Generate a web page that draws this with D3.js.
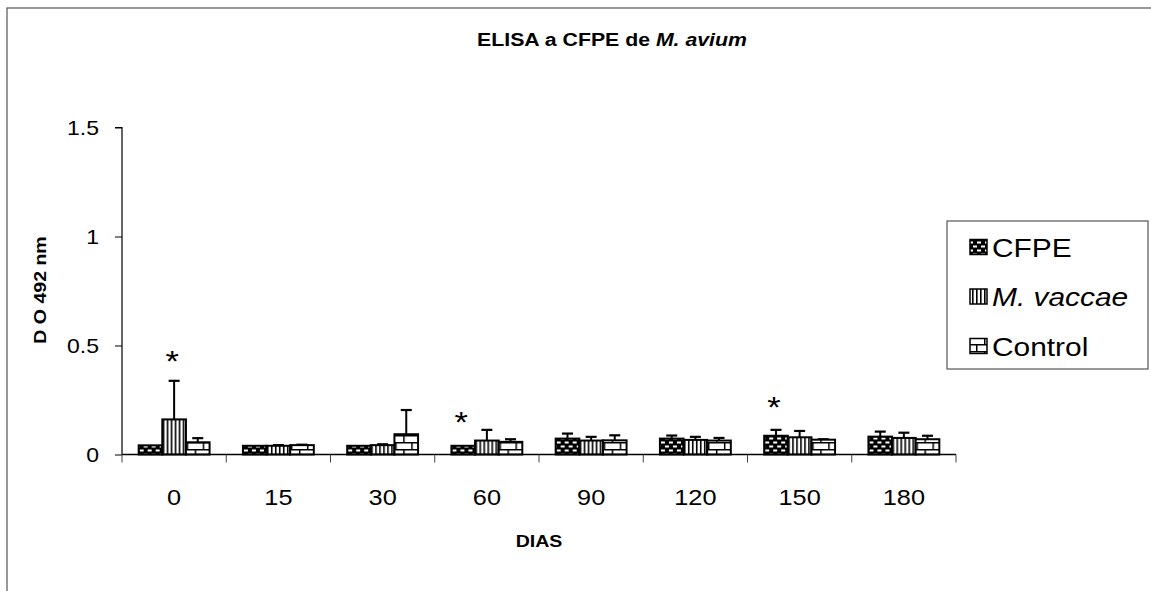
<!DOCTYPE html>
<html><head><meta charset="utf-8">
<script src="https://cdn.jsdelivr.net/npm/d3@7"></script>
<style>body{margin:0;background:#fff}svg{display:block}</style>
</head><body>
<svg id="c" width="1151" height="591"></svg>
<script>
const categories = ["0","15","30","60","90","120","150","180"];
const seriesNames = ["CFPE","M. vaccae","Control"];
const cfpeValues    = [0.042,0.040,0.040,0.040,0.073,0.073,0.086,0.082];
const cfpeErrors    = [0.000,0.000,0.000,0.000,0.023,0.014,0.027,0.023];
const vaccaeValues  = [0.161,0.040,0.043,0.064,0.064,0.067,0.079,0.076];
const vaccaeErrors  = [0.177,0.003,0.004,0.049,0.017,0.014,0.029,0.024];
const controlValues = [0.056,0.043,0.093,0.058,0.065,0.064,0.068,0.070];
const controlErrors = [0.019,0.002,0.111,0.012,0.023,0.012,0.002,0.016];
const yTicks = [0, 0.5, 1, 1.5];
const yTickLabels = ["0","0.5","1","1.5"];
const stars = [{cat:"0",series:1,y:0.47},{cat:"60",series:0,y:0.19},{cat:"150",series:0,y:0.26}];
const titleMain = "ELISA a CFPE de ";
const titleItalic = "M. avium";
const xTitle = "DIAS";
const yTitle = "D O 492 nm";

const values = [cfpeValues, vaccaeValues, controlValues];
const errors = [cfpeErrors, vaccaeErrors, controlErrors];
const FONT = "'Liberation Sans', Arial, sans-serif";
const SX = 1.15;

const svg = d3.select("#c");
// patterns
const defs = svg.append("defs");
const p0 = defs.append("pattern").attr("id","pat0").attr("patternUnits","userSpaceOnUse").attr("width",8).attr("height",8);
p0.append("rect").attr("width",8).attr("height",8).attr("fill","#000");
p0.append("rect").attr("x",1).attr("y",1.5).attr("width",4).attr("height",2).attr("fill","#fff");
p0.append("rect").attr("x",5).attr("y",5.5).attr("width",4).attr("height",2).attr("fill","#fff");
p0.append("rect").attr("x",-3).attr("y",5.5).attr("width",4).attr("height",2).attr("fill","#fff");
const p1 = defs.append("pattern").attr("id","pat1").attr("patternUnits","userSpaceOnUse").attr("width",4).attr("height",4);
p1.append("rect").attr("width",4).attr("height",4).attr("fill","#fff");
p1.append("rect").attr("x",0).attr("y",0).attr("width",1.6).attr("height",4).attr("fill","#000");
const p2 = defs.append("pattern").attr("id","pat2").attr("patternUnits","userSpaceOnUse").attr("width",16).attr("height",14).attr("y",1);
p2.append("rect").attr("width",16).attr("height",14).attr("fill","#fff");
p2.append("rect").attr("x",0).attr("y",0).attr("width",16).attr("height",1.5).attr("fill","#000");
p2.append("rect").attr("x",0).attr("y",7).attr("width",16).attr("height",1.5).attr("fill","#000");
p2.append("rect").attr("x",8).attr("y",0).attr("width",1.5).attr("height",7).attr("fill","#000");
p2.append("rect").attr("x",0).attr("y",7).attr("width",1.5).attr("height",7).attr("fill","#000");

// outer frame
svg.append("rect").attr("x",7).attr("y",8).attr("width",1200).attr("height",700)
  .attr("fill","none").attr("stroke","#555").attr("stroke-width",1.2);

function stext(x, y, anchor, size, weight, parts, rot) {
  const g = svg.append("g").attr("transform", `translate(${x},${y})` + (rot ? ` rotate(${rot})` : "") + ` scale(${SX},1)`);
  const t = g.append("text").attr("text-anchor",anchor).attr("font-family",FONT)
    .attr("font-size",size).attr("font-weight",weight).attr("fill","#000");
  parts.forEach(p => t.append("tspan").attr("font-style", p.i ? "italic" : "normal").text(p.t));
  return t;
}

const x0 = 122, x1 = 956, yBase = 454.5, yTop = 127.5;
const pad = 0.32;
const x = d3.scaleBand().domain(categories).range([x0, x1]).paddingInner(pad).paddingOuter(pad/2);
const xs = d3.scaleBand().domain(d3.range(3)).range([0, x.bandwidth()]);
const y = d3.scaleLinear().domain([0, 1.5]).range([yBase, yTop]);

// title
stext(612, 46, "middle", 18.5, "bold", [{t:titleMain},{t:titleItalic,i:true}]);

// y axis
const yAxisG = svg.append("g").attr("transform",`translate(${x0},0)`)
  .call(d3.axisLeft(y).tickValues(yTicks).tickSize(7).tickFormat(() => ""));
yAxisG.select(".domain").attr("stroke","#000").attr("stroke-width",1.2).attr("d",`M-7,${yTop}H0V${yBase}`);
yAxisG.selectAll(".tick line").attr("stroke","#000");
yTicks.forEach((v,i) => stext(99, y(v) + 7, "end", 20, "normal", [{t:yTickLabels[i]}]));

// bars
const groups = svg.append("g").selectAll("g").data(categories).join("g")
  .attr("transform", d => `translate(${x(d)},0)`);
groups.each(function(cat, ci) {
  const g = d3.select(this);
  for (let s = 0; s < 3; s++) {
    const v = values[s][ci], e = errors[s][ci];
    const bx = xs(s), bw = xs.bandwidth();
    if (e > 0.001) {
      g.append("line").attr("x1",bx+bw/2).attr("x2",bx+bw/2).attr("y1",y(v)).attr("y2",y(v+e))
        .attr("stroke","#000").attr("stroke-width",2);
      g.append("line").attr("x1",bx+bw/2-5.5).attr("x2",bx+bw/2+5.5).attr("y1",y(v+e)).attr("y2",y(v+e))
        .attr("stroke","#000").attr("stroke-width",2.2);
    }
    g.append("rect").attr("x",bx).attr("width",bw).attr("y",y(v)).attr("height",yBase - y(v))
      .attr("fill",`url(#pat${s})`).attr("stroke","#000").attr("stroke-width",2);
  }
});

// x axis
const step = x.step();
const boundaries = categories.map(c => x(c) - step*pad/2).concat([x1]);
svg.append("line").attr("x1",x0).attr("x2",x1).attr("y1",yBase).attr("y2",yBase).attr("stroke","#000").attr("stroke-width",1.3);
svg.selectAll(".xt").data(boundaries).join("line").attr("class","xt")
  .attr("x1",d=>d).attr("x2",d=>d).attr("y1",yBase).attr("y2",yBase+8).attr("stroke","#444").attr("stroke-width",1);
categories.forEach(c => stext(x(c) + x.bandwidth()/2, 505, "middle", 22, "normal", [{t:c}]));

// stars
stars.forEach(st => {
  const cx = x(st.cat) + xs(st.series) + xs.bandwidth()/2 - 2;
  stext(cx, y(st.y) + 19, "middle", 30, "normal", [{t:"*"}]);
});

// axis titles
stext(539, 547, "middle", 17, "bold", [{t:xTitle}]);
stext(46, 290, "middle", 17, "bold", [{t:yTitle}], -90);

// legend
svg.append("rect").attr("x",947).attr("y",221).attr("width",201).attr("height",148)
  .attr("fill","#fff").attr("stroke","#555").attr("stroke-width",1.2);
seriesNames.forEach((n,i) => {
  const cy = 247 + i*49.5;
  svg.append("rect").attr("x",970).attr("y",cy-7.5).attr("width",17).attr("height",15)
    .attr("fill",`url(#pat${i})`).attr("stroke","#000").attr("stroke-width",1.5);
  stext(992, cy + 9.5, "start", 26, "normal", [{t:n, i: i===1}]);
});
</script>
</body></html>
